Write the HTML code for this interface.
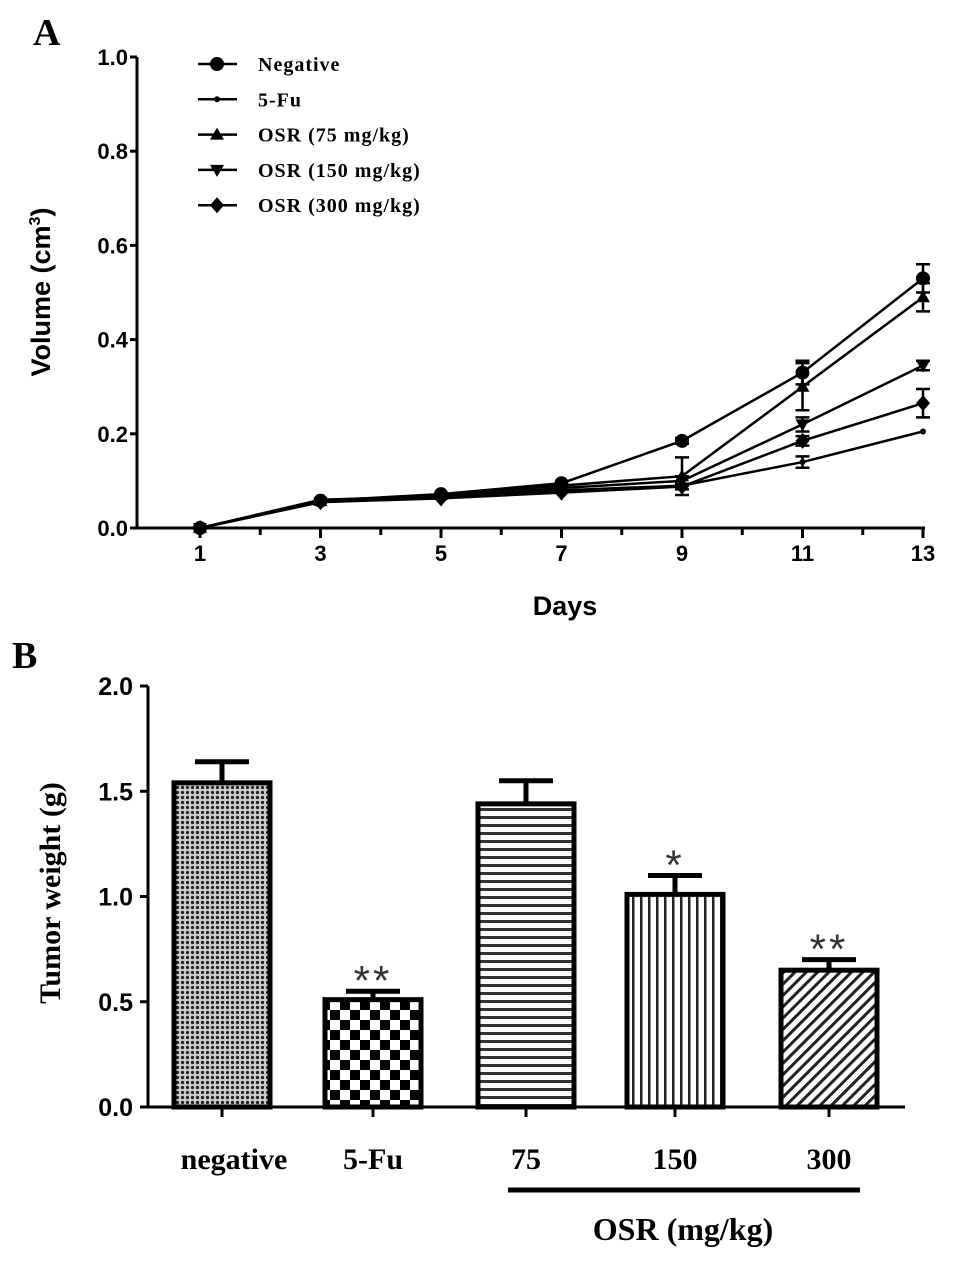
<!DOCTYPE html>
<html><head><meta charset="utf-8"><style>
body{margin:0;background:#fff;}
svg{display:block;}
.sans{font-family:"Liberation Sans",sans-serif;font-weight:bold;}
.serif{font-family:"Liberation Serif",serif;font-weight:bold;}
</style></head><body>
<svg id="svg" width="969" height="1269" viewBox="0 0 969 1269" xmlns="http://www.w3.org/2000/svg">
<defs>
<pattern id="pDots" width="5" height="5" patternUnits="userSpaceOnUse"><rect width="5" height="5" fill="#ccc"/><circle cx="2.5" cy="2.5" r="1.6" fill="#222"/></pattern>
<pattern id="pCheck" width="20" height="20" patternUnits="userSpaceOnUse"><rect width="20" height="20" fill="#fff"/><rect width="10" height="10" fill="#000"/><rect x="10" y="10" width="10" height="10" fill="#000"/></pattern>
<pattern id="pH" width="8" height="8" patternUnits="userSpaceOnUse"><rect width="8" height="8" fill="#fff"/><rect y="0" width="8" height="3" fill="#333"/></pattern>
<pattern id="pV" width="8" height="8" patternUnits="userSpaceOnUse"><rect width="8" height="8" fill="#fff"/><rect x="0" width="2.5" height="8" fill="#222"/></pattern>
<pattern id="pD" width="8" height="8" patternUnits="userSpaceOnUse" patternTransform="rotate(45)"><rect width="8" height="8" fill="#fff"/><rect width="3" height="8" fill="#222"/></pattern>
</defs>
<g id="chartA"></g>
<g id="chartB"></g>
</svg>
<script>
const days=[1,3,5,7,9,11,13];
const seriesNames=["Negative","5-Fu","OSR (75 mg/kg)","OSR (150 mg/kg)","OSR (300 mg/kg)"];
const negVals=[0,0.058,0.072,0.095,0.185,0.33,0.53];
const fuVals=[0,0.06,0.068,0.08,0.09,0.14,0.205];
const osr75Vals=[0,0.057,0.07,0.09,0.11,0.30,0.49];
const osr150Vals=[0,0.055,0.065,0.085,0.10,0.22,0.345];
const osr300Vals=[0,0.055,0.063,0.075,0.088,0.185,0.265];
const negErr=[0,0.004,0.004,0.005,0.006,0.025,0.03];
const fuErr=[0,0.003,0.003,0.004,0.004,0.012,0.004];
const osr75Err=[0,0.004,0.004,0.005,0.04,0.05,0.03];
const osr150Err=[0,0.004,0.004,0.004,0.01,0.015,0.01];
const osr300Err=[0,0.004,0.004,0.004,0.006,0.01,0.03];
const yTicksA=[0,0.2,0.4,0.6,0.8,1.0];
const barCats=["negative","5-Fu","75","150","300"];
const barVals=[1.54,0.51,1.44,1.01,0.65];
const barErr=[0.10,0.04,0.11,0.09,0.05];
const barStars=["","**","","*","**"];
const yTicksB=[0,0.5,1.0,1.5,2.0];

const NS="http://www.w3.org/2000/svg";
function mk(parent,tag,attrs,text){const e=document.createElementNS(NS,tag);for(const k in attrs)e.setAttribute(k,attrs[k]);if(text!==undefined)e.textContent=text;parent.appendChild(e);return e;}

// Chart A
const A=document.getElementById('chartA');
const xA=d=>200+(d-1)*(723/12);
const yA=v=>528-v*471;
mk(A,'text',{x:33,y:45,'font-size':38,class:'serif',},'A');
mk(A,'line',{x1:137,y1:57,x2:137,y2:529,stroke:'#000','stroke-width':3,});
mk(A,'line',{x1:137,y1:528,x2:925,y2:528,stroke:'#000','stroke-width':3,});
yTicksA.forEach(t=>{
 const g=mk(A,'g',{});
 
 
 mk(g,'line',{x1:130,y1:yA(t),x2:137,y2:yA(t),stroke:'#000','stroke-width':3});
 mk(g,'text',{x:128,y:yA(t)+8,'text-anchor':'end','font-size':22,class:'sans'},t.toFixed(1));
});
for(let d=1;d<=13;d++){
 const g=mk(A,'g',{});
 
 
 mk(g,'line',{x1:xA(d),y1:528,x2:xA(d),y2:d%2?538:535,stroke:'#000','stroke-width':3});
 if(d%2) mk(g,'text',{x:xA(d),y:561,'text-anchor':'middle','font-size':22,class:'sans'},d);
}
mk(A,'text',{x:565,y:615,'text-anchor':'middle','font-size':27,class:'sans',},'Days');
const yt=mk(A,'text',{transform:'translate(50,292) rotate(-90)','text-anchor':'middle','font-size':27,class:'sans',},'Volume (cm');
mk(yt,'tspan',{'font-size':16,dy:-10},'3');
mk(yt,'tspan',{dy:10},')');
function marker(g,type,x,y){
 if(type==0) mk(g,'circle',{cx:x,cy:y,r:7,fill:'#000'});
 else if(type==1) mk(g,'circle',{cx:x,cy:y,r:3,fill:'#000'});
 else if(type==2) mk(g,'polygon',{points:`${x},${y-7} ${x+7},${y+5} ${x-7},${y+5}`,fill:'#000'});
 else if(type==3) mk(g,'polygon',{points:`${x},${y+7} ${x+7},${y-5} ${x-7},${y-5}`,fill:'#000'});
 else mk(g,'polygon',{points:`${x},${y-8} ${x+7},${y} ${x},${y+8} ${x-7},${y}`,fill:'#000'});
}
const allVals=[negVals,fuVals,osr75Vals,osr150Vals,osr300Vals];
const allErr=[negErr,fuErr,osr75Err,osr150Err,osr300Err];
allVals.forEach((vals,si)=>{
 const g=mk(A,'g',{});
 
 
 mk(g,'polyline',{points:vals.map((v,i)=>xA(days[i])+','+yA(v)).join(' '),fill:'none',stroke:'#000','stroke-width':2.5});
 vals.forEach((v,i)=>{
  const x=xA(days[i]),e=allErr[si][i];
  if(e>0.005){mk(g,'path',{d:`M${x},${yA(v-e)}V${yA(v+e)}M${x-7},${yA(v-e)}h14M${x-7},${yA(v+e)}h14`,stroke:'#000','stroke-width':2.5,fill:'none'});}
  marker(g,si,x,yA(v));
 });
});
seriesNames.forEach((n,i)=>{
 const y=64+i*35.3;
 const g=mk(A,'g',{});
 
 
 mk(g,'line',{x1:198,y1:y,x2:237,y2:y,stroke:'#000','stroke-width':2.5});
 marker(g,i,217,y);
 mk(g,'text',{x:258,y:y+7,'font-size':20,'letter-spacing':1,class:'serif'},n);
});

// Chart B
const B=document.getElementById('chartB');
const yB=v=>1107-v*210.5;
const centers=[222,373,526,675,829];
const fills=['url(#pDots)','url(#pCheck)','url(#pH)','url(#pV)','url(#pD)'];
mk(B,'text',{x:12,y:668,'font-size':38,class:'serif',},'B');
mk(B,'line',{x1:148,y1:686,x2:148,y2:1108,stroke:'#000','stroke-width':3,});
mk(B,'line',{x1:148,y1:1107,x2:905,y2:1107,stroke:'#000','stroke-width':3,});
yTicksB.forEach(t=>{
 const g=mk(A,'g',{});
 
 
 mk(g,'line',{x1:140,y1:yB(t),x2:148,y2:yB(t),stroke:'#000','stroke-width':3});
 mk(g,'text',{x:133,y:yB(t)+9,'text-anchor':'end','font-size':25,class:'sans'},t.toFixed(1));
});
mk(B,'text',{transform:'translate(60,893) rotate(-90)','text-anchor':'middle','font-size':30,class:'serif',},'Tumor weight (g)');
barVals.forEach((v,i)=>{
 const c=centers[i],w=100;
 const g=mk(B,'g',{});
 
 
 mk(g,'path',{d:`M${c},${yB(v)}V${yB(v+barErr[i])}M${c-27},${yB(v+barErr[i])}h54`,stroke:'#000','stroke-width':5,fill:'none'});
 mk(g,'rect',{x:c-w/2+2,y:yB(v),width:w-4,height:1107-yB(v),fill:fills[i],stroke:'#000','stroke-width':5});
 mk(g,'line',{x1:c,y1:1107,x2:c,y2:1117,stroke:'#000','stroke-width':3});
 if(barStars[i]) mk(g,'text',{x:c,y:yB(v+barErr[i])+4,'text-anchor':'middle','font-size':42,'font-family':'Liberation Sans,sans-serif','letter-spacing':3,fill:'#333'},barStars[i]);
 mk(g,'text',{x:c+(i==0?12:0),y:1169,'text-anchor':'middle','font-size':30,class:'serif'},barCats[i]);
});
mk(B,'line',{x1:508,y1:1190,x2:860,y2:1190,stroke:'#000','stroke-width':5,});
mk(B,'text',{x:683,y:1240,'text-anchor':'middle','font-size':32,class:'serif',},'OSR (mg/kg)');
</script>
</body></html>
